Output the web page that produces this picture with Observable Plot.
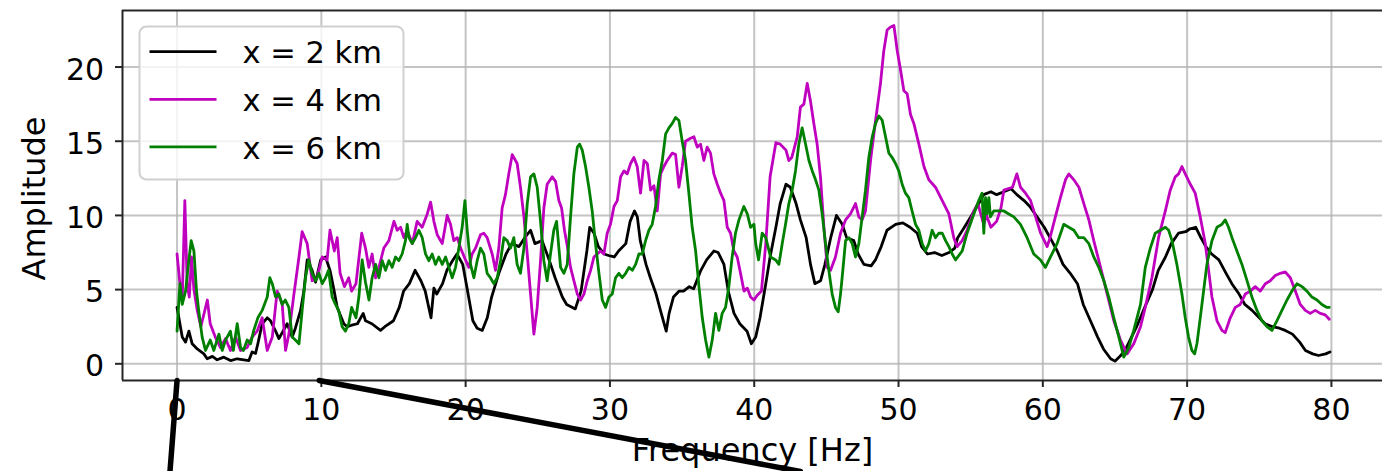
<!DOCTYPE html>
<html>
<head>
<meta charset="utf-8">
<script src="https://cdn.jsdelivr.net/npm/d3@7"></script>
<script src="https://cdn.jsdelivr.net/npm/@observablehq/plot@0.6"></script>
<style>
  html, body { margin: 0; padding: 0; background: #fff; overflow: hidden; }
  #chart svg { display: block; }
</style>
</head>
<body>
<div id="chart"></div>
<script>
// Spectral amplitude recorded at three offsets along the line.
const seriesNames = ["x = 2 km", "x = 4 km", "x = 6 km"];
const seriesColors = ["#000000", "#bf00bf", "#008000"];
const xTicks = [0, 10, 20, 30, 40, 50, 60, 70, 80];
const yTicks = [0, 5, 10, 15, 20];

// [frequency Hz, amplitude]
const amp2km = [
  [0.00,3.8],[0.36,1.8],[0.59,1.46],[0.82,2.2],[1.05,1.35],[1.40,1.0],[1.86,0.67],[2.09,0.34],[2.45,0.5],[2.78,0.27],
  [3.24,0.45],[3.71,0.22],[4.17,0.34],[4.63,0.27],[4.98,0.22],[5.20,0.8],[5.44,0.7],[5.60,1.35],[5.90,2.7],[6.25,3.1],
  [6.48,2.9],[6.83,2.2],[7.06,1.7],[7.29,2.1],[7.63,2.7],[7.98,1.8],[8.20,2.4],[8.56,3.6],[8.79,4.9],[9.02,7.0],
  [9.36,6.3],[9.60,5.5],[9.95,7.0],[10.29,7.2],[10.60,6.3],[10.87,5.0],[11.10,3.8],[11.56,2.7],[11.79,2.5],[12.10,2.6],
  [12.50,2.7],[12.90,3.4],[13.06,2.9],[13.50,2.7],[14.10,2.25],[14.40,2.5],[15.00,2.9],[15.40,3.8],[15.70,4.9],[16.10,5.4],
  [16.50,6.3],[16.90,5.6],[17.20,4.9],[17.60,3.1],[17.80,5.1],[18.00,4.7],[18.40,5.4],[18.70,6.3],[19.10,6.96],[19.40,7.4],
  [19.80,6.7],[20.10,5.1],[20.50,2.9],[20.80,2.4],[21.15,2.25],[21.50,3.1],[21.80,4.5],[22.30,6.1],[22.80,7.4],[23.20,8.1],
  [23.70,7.9],[24.10,8.5],[24.50,9.0],[24.80,8.1],[25.30,8.3],[25.80,6.96],[26.20,5.8],[26.70,4.5],[27.00,4.0],[27.40,3.8],
  [27.60,3.7],[28.00,4.9],[28.40,7.6],[28.60,9.2],[28.90,8.8],[29.20,7.9],[29.60,7.4],[29.90,7.3],[30.30,7.2],[30.60,7.6],
  [31.10,8.1],[31.40,9.6],[31.70,10.3],[31.90,9.9],[32.10,8.3],[32.50,6.7],[32.80,5.8],[33.20,4.7],[33.50,3.6],[33.90,2.2],
  [34.10,3.4],[34.40,4.5],[34.80,4.9],[35.10,4.9],[35.50,5.2],[35.80,5.05],[36.30,6.3],[36.70,7.0],[37.20,7.6],[37.50,7.5],
  [37.90,6.7],[38.20,4.9],[38.60,3.4],[39.00,2.7],[39.50,2.2],[39.80,1.35],[40.10,1.8],[40.40,3.1],[40.80,5.4],[41.10,7.2],
  [41.50,9.2],[41.80,10.8],[42.20,12.1],[42.50,11.9],[42.90,10.8],[43.20,9.7],[43.60,8.5],[43.90,6.7],[44.20,5.4],[44.60,5.6],
  [44.90,6.7],[45.30,8.5],[45.70,10.0],[46.10,9.4],[46.40,8.5],[46.90,8.3],[47.20,7.4],[47.60,6.7],[48.10,6.6],[48.40,7.0],
  [48.80,7.9],[49.20,9.0],[49.80,9.4],[50.30,9.5],[50.80,9.2],[51.30,8.8],[51.60,7.9],[52.00,7.4],[52.50,7.5],[53.00,7.3],
  [53.50,7.5],[53.90,7.8],[54.10,8.5],[54.50,9.1],[55.00,9.9],[55.50,10.7],[55.90,11.4],[56.40,11.6],[56.80,11.4],[57.30,11.6],
  [57.80,11.8],[58.20,11.4],[58.70,11.0],[59.10,10.6],[59.60,9.9],[60.10,9.2],[60.50,8.5],[61.00,7.6],[61.40,6.7],[61.90,6.1],
  [62.40,5.4],[62.80,4.0],[63.30,2.9],[63.80,1.8],[64.20,1.0],[64.70,0.34],[65.00,0.18],[65.40,0.56],[65.80,1.1],[66.50,2.5],
  [67.10,3.9],[67.60,5.0],[68.00,6.3],[68.50,7.2],[68.90,8.1],[69.40,8.8],[69.90,8.9],[70.20,9.1],[70.60,9.2],[70.90,8.6],
  [71.30,7.9],[71.70,7.4],[72.20,7.0],[72.70,6.1],[73.10,5.4],[73.60,4.7],[74.00,4.0],[74.50,3.6],[75.00,3.1],[75.40,2.7],
  [75.90,2.5],[76.40,2.4],[76.80,2.25],[77.30,2.0],[77.80,1.46],[78.20,0.9],[78.70,0.67],[79.10,0.56],[79.60,0.67],[79.90,0.8]
];

const amp4km = [
  [0.00,7.4],[0.20,5.4],[0.36,4.3],[0.54,11.0],[0.70,5.4],[0.85,4.5],[1.00,7.2],[1.17,5.0],[1.40,3.6],[1.65,2.5],
  [2.10,4.3],[2.30,2.7],[2.65,1.8],[3.00,1.1],[3.36,1.7],[3.70,0.9],[4.05,1.8],[4.40,0.9],[4.86,1.1],[5.20,1.8],
  [5.55,2.2],[5.90,3.1],[6.25,0.9],[6.60,1.8],[6.94,4.9],[7.29,4.0],[7.52,0.9],[7.75,2.0],[8.10,4.7],[8.45,7.2],
  [8.67,8.9],[9.02,8.1],[9.36,5.6],[9.70,5.8],[10.06,7.2],[10.40,7.0],[10.60,9.0],[10.90,7.6],[11.10,8.5],[11.30,6.1],
  [11.60,5.2],[11.90,5.8],[12.10,4.9],[12.40,5.4],[12.80,8.8],[13.06,7.8],[13.29,6.5],[13.52,7.4],[13.76,5.8],[13.99,6.5],
  [14.33,7.8],[14.68,8.3],[15.03,9.6],[15.26,9.0],[15.49,9.2],[15.72,8.5],[15.95,9.0],[16.30,8.1],[16.64,9.6],[16.99,9.2],
  [17.34,10.1],[17.57,10.9],[17.80,9.6],[18.03,8.7],[18.38,8.1],[18.72,10.0],[18.95,9.4],[19.18,8.3],[19.42,8.5],[19.65,7.8],
  [19.99,7.0],[20.22,6.5],[20.45,7.4],[20.69,7.8],[21.03,8.7],[21.26,8.8],[21.49,8.5],[21.84,7.4],[22.07,6.3],[22.30,7.8],
  [22.53,10.5],[22.76,11.4],[22.99,12.8],[23.23,14.1],[23.57,13.5],[23.80,11.9],[24.04,9.9],[24.27,7.4],[24.50,4.7],[24.73,2.0],
  [24.96,3.8],[25.19,6.95],[25.42,10.5],[25.65,12.1],[26.00,12.6],[26.23,12.3],[26.46,11.0],[26.65,10.5],[26.85,9.0],[27.05,7.9],
  [27.27,6.5],[27.50,5.6],[27.74,4.7],[27.97,4.3],[28.20,4.7],[28.43,5.6],[28.66,6.3],[28.89,7.2],[29.12,7.4],[29.35,7.6],
  [29.58,7.4],[29.81,8.8],[30.04,9.4],[30.28,10.6],[30.51,11.0],[30.74,12.6],[30.97,13.0],[31.20,12.8],[31.43,13.5],[31.66,13.9],
  [31.89,13.3],[32.12,11.5],[32.36,13.7],[32.59,13.5],[32.82,11.7],[33.05,12.0],[33.28,10.3],[33.51,12.8],[33.74,13.3],[33.97,13.7],
  [34.32,14.2],[34.55,14.1],[34.78,11.9],[35.01,13.3],[35.24,15.0],[35.59,15.2],[35.82,15.3],[36.05,14.6],[36.28,14.8],[36.51,13.7],
  [36.74,14.6],[36.97,14.2],[37.20,12.8],[37.44,12.1],[37.67,11.5],[37.90,11.0],[38.13,9.2],[38.36,8.8],[38.59,7.6],[38.82,7.2],
  [39.05,6.1],[39.29,4.9],[39.52,5.1],[39.75,4.5],[39.98,4.3],[40.20,4.6],[40.50,4.9],[40.80,8.1],[41.10,12.6],[41.50,14.9],
  [41.80,14.8],[42.20,14.4],[42.40,13.7],[42.60,13.9],[42.98,15.3],[43.20,17.3],[43.44,17.5],[43.67,18.9],[43.90,17.7],[44.13,16.2],
  [44.36,14.8],[44.59,12.6],[44.83,9.2],[45.06,6.5],[45.29,6.3],[45.63,7.2],[45.98,8.8],[46.33,9.7],[46.67,10.1],[47.02,10.8],
  [47.25,9.9],[47.48,9.7],[47.71,10.3],[48.06,13.7],[48.41,16.4],[48.75,18.9],[48.98,21.1],[49.21,22.5],[49.45,22.7],[49.68,22.8],
  [49.91,21.1],[50.14,19.8],[50.37,18.4],[50.60,18.2],[50.83,16.8],[51.06,16.2],[51.41,14.8],[51.76,13.3],[52.10,12.4],[52.56,11.9],
  [53.03,11.0],[53.49,10.1],[53.83,8.5],[54.06,7.9],[54.41,8.3],[54.75,9.0],[55.22,10.3],[55.50,10.8],[55.90,9.4],[56.10,10.0],
  [56.40,9.2],[56.80,9.6],[57.10,10.5],[57.30,11.7],[57.90,11.9],[58.20,12.8],[58.45,11.9],[58.80,11.5],[59.15,11.0],[59.50,9.9],
  [59.85,8.8],[60.30,7.9],[60.50,8.5],[60.87,9.9],[61.22,11.2],[61.57,12.4],[61.80,12.8],[62.15,12.4],[62.50,11.9],[62.84,10.8],
  [63.19,9.7],[63.53,8.3],[64.00,6.5],[64.46,4.7],[64.92,2.9],[65.38,1.6],[65.84,0.67],[66.30,1.35],[66.77,2.5],[67.10,3.8],
  [67.56,5.8],[68.02,8.5],[68.49,10.3],[68.83,11.7],[69.18,12.6],[69.41,12.8],[69.64,13.3],[69.87,12.8],[70.22,12.1],[70.56,11.5],
  [70.91,9.9],[71.26,8.1],[71.49,6.3],[71.72,4.5],[72.07,2.9],[72.41,2.25],[72.64,2.1],[72.99,3.1],[73.34,3.8],[73.68,4.0],
  [74.03,4.7],[74.38,4.9],[74.72,5.2],[75.07,4.9],[75.42,5.4],[75.76,5.6],[76.11,5.95],[76.46,6.1],[76.80,6.2],[77.15,5.8],
  [77.50,4.9],[77.84,4.0],[78.19,3.6],[78.53,3.4],[78.88,3.6],[79.23,3.4],[79.57,3.3],[79.85,3.0]
];

const amp6km = [
  [0.00,2.2],[0.20,5.4],[0.36,4.0],[0.59,4.9],[0.82,7.0],[0.98,8.3],[1.17,7.6],[1.35,4.9],[1.50,3.6],[1.74,1.8],
  [1.97,0.9],[2.30,1.6],[2.55,0.9],[2.90,2.0],[3.13,0.9],[3.36,1.6],[3.70,2.2],[3.90,0.9],[4.17,2.7],[4.40,1.1],
  [4.60,0.9],[4.86,1.6],[5.10,1.35],[5.30,2.2],[5.60,3.1],[5.90,3.6],[6.25,4.5],[6.43,5.8],[6.60,5.4],[6.83,4.5],
  [7.06,4.7],[7.29,4.0],[7.50,4.3],[7.75,3.8],[7.98,1.8],[8.20,1.6],[8.45,1.35],[8.67,3.6],[8.90,5.8],[9.13,7.0],
  [9.36,6.1],[9.60,5.6],[9.83,6.1],[10.06,5.4],[10.29,5.8],[10.50,6.3],[10.75,4.5],[10.98,4.0],[11.20,3.6],[11.44,2.5],
  [11.67,2.2],[11.90,2.7],[12.10,3.8],[12.40,3.1],[12.60,4.5],[12.83,7.0],[13.06,5.5],[13.30,4.3],[13.52,5.8],[13.76,6.7],
  [13.99,5.8],[14.22,6.95],[14.45,6.3],[14.68,6.95],[14.91,6.5],[15.14,7.2],[15.37,6.95],[15.60,7.4],[15.83,8.3],[15.95,9.4],
  [16.07,8.5],[16.30,8.1],[16.53,8.5],[16.76,9.0],[16.99,8.5],[17.22,7.4],[17.45,6.95],[17.68,7.4],[17.91,6.7],[18.14,7.2],
  [18.38,6.7],[18.61,7.2],[18.84,6.5],[19.07,5.8],[19.30,6.5],[19.53,7.8],[19.76,9.2],[19.95,11.0],[20.11,9.0],[20.34,6.7],
  [20.57,5.8],[20.80,6.95],[21.03,7.8],[21.26,7.4],[21.49,6.1],[21.72,5.8],[21.95,5.4],[22.19,5.8],[22.42,6.95],[22.65,8.5],
  [22.88,8.3],[23.11,7.8],[23.34,8.5],[23.57,6.7],[23.80,6.1],[24.04,7.8],[24.27,10.8],[24.50,12.6],[24.73,12.8],[24.96,11.9],
  [25.19,9.6],[25.42,6.95],[25.65,5.6],[25.88,7.4],[26.11,9.0],[26.30,9.6],[26.58,6.5],[26.81,6.1],[27.04,6.7],[27.27,9.9],
  [27.50,12.8],[27.74,14.6],[27.90,14.8],[28.08,14.4],[28.31,13.3],[28.54,11.9],[28.77,10.3],[29.00,8.1],[29.24,6.1],[29.47,4.3],
  [29.70,3.8],[29.93,4.5],[30.16,4.7],[30.39,5.8],[30.62,6.1],[30.85,5.8],[31.09,6.1],[31.32,6.5],[31.55,6.3],[31.78,6.7],
  [32.01,7.4],[32.24,7.4],[32.47,8.3],[32.70,9.0],[32.93,9.4],[33.16,10.6],[33.39,12.4],[33.63,13.7],[33.86,15.5],[34.09,15.9],
  [34.32,16.2],[34.55,16.6],[34.78,16.4],[35.01,15.0],[35.24,13.7],[35.47,11.5],[35.70,9.2],[35.94,7.6],[36.17,5.2],[36.40,3.1],
  [36.63,1.6],[36.86,0.45],[37.09,1.6],[37.32,3.4],[37.55,2.25],[37.78,3.4],[38.01,3.8],[38.24,5.2],[38.47,7.2],[38.70,8.8],
  [38.94,9.7],[39.28,10.6],[39.52,10.1],[39.75,9.2],[39.98,9.4],[40.10,8.1],[40.30,7.0],[40.55,8.8],[40.80,8.5],[41.13,7.2],
  [41.48,7.0],[41.71,6.7],[41.94,8.1],[42.17,9.4],[42.40,10.8],[42.63,11.7],[42.86,13.0],[43.09,14.8],[43.32,15.9],[43.56,14.8],
  [43.79,13.7],[44.02,13.0],[44.25,12.4],[44.48,11.7],[44.71,10.1],[44.94,8.1],[45.17,6.3],[45.40,4.7],[45.63,3.8],[45.82,3.5],
  [45.98,4.7],[46.14,6.3],[46.33,8.3],[46.56,8.5],[46.79,8.1],[47.02,7.2],[47.25,8.1],[47.48,9.9],[47.71,11.7],[47.94,13.9],
  [48.18,15.3],[48.41,16.2],[48.64,16.7],[48.87,16.4],[49.10,15.3],[49.33,14.2],[49.56,13.9],[49.79,13.5],[50.02,13.0],[50.25,12.1],
  [50.48,11.5],[50.71,11.2],[50.94,10.3],[51.18,9.4],[51.41,9.0],[51.64,8.1],[51.87,7.6],[52.10,8.1],[52.33,9.0],[52.56,8.5],
  [52.79,8.8],[53.03,8.8],[53.26,8.3],[53.49,7.9],[53.72,7.4],[53.95,7.0],[54.41,7.6],[54.75,8.8],[55.22,10.1],[55.56,11.0],
  [55.79,11.5],[55.91,8.8],[56.03,11.2],[56.14,10.1],[56.26,11.2],[56.37,9.9],[56.60,10.3],[56.95,10.3],[57.30,10.3],[57.64,10.1],
  [57.99,9.9],[58.45,9.4],[58.91,8.5],[59.37,7.4],[59.84,7.0],[60.18,6.5],[60.53,7.2],[60.99,8.1],[61.45,9.4],[61.80,9.2],
  [62.15,9.0],[62.49,8.5],[62.84,8.5],[63.19,8.1],[63.53,7.2],[63.88,6.5],[64.23,5.6],[64.57,4.5],[64.92,3.1],[65.27,1.8],
  [65.61,0.45],[65.96,1.1],[66.30,2.25],[66.77,4.0],[67.10,6.5],[67.45,7.8],[67.79,8.8],[68.14,9.0],[68.49,9.2],[68.72,9.0],
  [68.95,8.3],[69.29,6.7],[69.64,4.7],[69.87,3.1],[70.10,1.8],[70.33,0.9],[70.52,0.67],[70.68,1.35],[70.91,3.1],[71.14,4.9],
  [71.37,6.7],[71.72,8.3],[72.07,9.2],[72.41,9.4],[72.64,9.7],[72.87,9.2],[73.11,8.5],[73.45,7.6],[73.80,6.7],[74.15,5.6],
  [74.49,4.5],[74.84,3.6],[75.19,2.9],[75.53,2.5],[75.88,2.25],[76.22,2.9],[76.57,3.6],[76.92,4.3],[77.26,4.9],[77.61,5.4],
  [77.96,5.2],[78.30,4.9],[78.65,4.5],[79.00,4.3],[79.34,4.0],[79.69,3.8],[79.85,3.8]
];

// Frequency band shown enlarged below, and where its two guide lines leave the figure.
const insetLinks = [
  {freq: 0.0, freqFar: -0.49},
  {freq: 9.85, freqFar: 43.2}
];
const insetFarAmp = -7.26;

const seriesValues = [amp2km, amp4km, amp6km];
const rows = seriesNames.flatMap((name, i) =>
  seriesValues[i].map(([freq, amp]) => ({series: name, freq, amp}))
);

const xDomain = [-3.78, 83.54];
const yDomain = [-1.125, 23.81];

const linkRows = insetLinks.flatMap((d, i) => [
  {id: i, freq: d.freq, amp: yDomain[0]},
  {id: i, freq: d.freqFar, amp: insetFarAmp}
]);

const font = "DejaVu Sans, sans-serif";
const spine = "#262626";

// Legend box drawn inside the upper-left corner of the frame.
function legend(index, scales, values, dims) {
  const g = d3.create("svg:g").attr("font-family", font).attr("text-anchor", "start");
  const x0 = dims.marginLeft + 17.5, y0 = dims.marginTop + 16.5;
  g.append("rect")
    .attr("x", x0).attr("y", y0).attr("width", 264).attr("height", 153)
    .attr("rx", 7).attr("fill", "#ffffff").attr("fill-opacity", 0.8)
    .attr("stroke", "#d0d0d0").attr("stroke-width", 2);
  seriesNames.forEach((name, i) => {
    const cy = y0 + 25.2 + i * 47.6;
    g.append("line")
      .attr("x1", x0 + 10).attr("x2", x0 + 77).attr("y1", cy).attr("y2", cy)
      .attr("stroke", seriesColors[i]).attr("stroke-width", 2.8);
    g.append("text")
      .attr("x", x0 + 103).attr("y", cy + 11.6)
      .attr("text-anchor", "start")
      .attr("font-size", 30.5).attr("fill", "#000").text(name);
  });
  return g.node();
}

const chart = Plot.plot({
  width: 1382,
  height: 471,
  marginLeft: 122,
  marginRight: 0,
  marginTop: 10,
  marginBottom: 91,
  style: {fontFamily: font, background: "#ffffff", overflow: "visible"},
  x: {domain: xDomain},
  y: {domain: yDomain},
  color: {domain: seriesNames, range: seriesColors},
  marks: [
    Plot.gridX(xTicks, {stroke: "#b0b0b0", strokeOpacity: 0.75, strokeWidth: 2}),
    Plot.gridY(yTicks, {stroke: "#b0b0b0", strokeOpacity: 0.75, strokeWidth: 2}),
    Plot.line(rows, {x: "freq", y: "amp", z: "series", stroke: "series", strokeWidth: 2.8}),
    // frame: left, top and bottom spines
    Plot.ruleX([xDomain[0]], {y1: yDomain[0], y2: yDomain[1], stroke: spine, strokeWidth: 2}),
    Plot.ruleY([yDomain[0], yDomain[1]], {x1: xDomain[0], x2: xDomain[1], stroke: spine, strokeWidth: 2}),
    // tick marks
    Plot.axisX(xTicks, {tickSize: 7, stroke: spine, strokeWidth: 2, fill: "none", label: null}),
    Plot.axisY(yTicks, {tickSize: 7, stroke: spine, strokeWidth: 2, fill: "none", label: null}),
    // tick labels
    Plot.axisX(xTicks, {tickSize: 7, tickPadding: 11, stroke: "none", fill: "#000", fontSize: 30, label: null}),
    Plot.axisY(yTicks, {tickSize: 7, tickPadding: 11.3, stroke: "none", fill: "#000", fontSize: 30, dy: 3, label: null}),
    // axis titles
    Plot.text(["Frequency [Hz]"], {frameAnchor: "bottom", text: d => d, fontSize: 32, fill: "#000",
      textAnchor: "middle", lineAnchor: "middle", dy: 70}),
    Plot.text(["Amplitude"], {frameAnchor: "left", text: d => d, fontSize: 32, fill: "#000",
      textAnchor: "middle", lineAnchor: "middle", rotate: -90, dx: -87.7, dy: 3}),
    legend,
    // guide lines toward the enlarged 0–10 Hz band
    Plot.line(linkRows, {x: "freq", y: "amp", z: "id", stroke: "#000", strokeWidth: 5.5})
  ]
});

document.getElementById("chart").append(chart);
</script>
</body>
</html>
